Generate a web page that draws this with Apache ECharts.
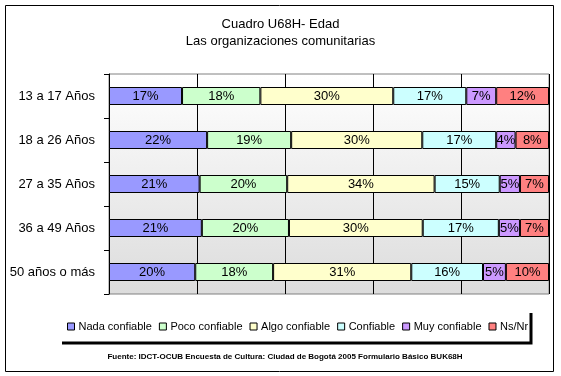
<!DOCTYPE html>
<html>
<head>
<meta charset="utf-8">
<script src="https://cdn.jsdelivr.net/npm/echarts@6/dist/echarts.min.js"></script>
<style>
html,body{margin:0;padding:0;background:#fff;}
#c{width:561px;height:376px;}
</style>
</head>
<body>
<div id="c"></div>
<script>
var categories = ['13 a 17 Años', '18 a 26 Años', '27 a 35 Años', '36 a 49 Años', '50 años o más'];
var nadaConfiable = [16.6, 22.3, 20.6, 21.1, 19.6];
var pocoConfiable = [17.8, 19.1, 19.9, 19.8, 17.7];
var algoConfiable = [30.2, 29.8, 33.5, 30.4, 31.4];
var confiable     = [16.6, 16.8, 14.8, 17.3, 16.3];
var muyConfiable  = [6.8, 4.4, 4.6, 4.8, 5.2];
var nsNr          = [12.0, 7.6, 6.6, 6.6, 9.8];
var seriesNames = ['Nada confiable', 'Poco confiable', 'Algo confiable', 'Confiable', 'Muy confiable', 'Ns/Nr'];
var seriesData = [nadaConfiable, pocoConfiable, algoConfiable, confiable, muyConfiable, nsNr];
var colors = ['#9999ff', '#ccffcc', '#ffffcc', '#ccffff', '#cc99ff', '#ff8080'];

var FONT = 'Liberation Sans, Arial, sans-serif';
var chart = echarts.init(document.getElementById('c'));
var series = seriesNames.map(function (n, i) {
  return {
    name: n,
    type: 'bar',
    stack: 'total',
    barWidth: 18,
    data: seriesData[i],
    itemStyle: { color: colors[i], borderColor: '#000', borderWidth: 1 },
    label: {
      show: true,
      position: 'inside',
      color: '#000',
      fontFamily: FONT,
      fontSize: 13,
      formatter: function (p) { return Math.round(p.value) + '%'; }
    }
  };
});

chart.setOption({
  animation: false,
  color: colors,
  title: {
    text: 'Cuadro U68H- Edad\nLas organizaciones comunitarias',
    left: 'center',
    top: 11,
    textStyle: { fontFamily: FONT, fontSize: 13, fontWeight: 'normal', color: '#000', lineHeight: 17 }
  },
  graphic: [
    { type: 'rect', shape: { x: 5.5, y: 5.5, width: 548, height: 366 }, style: { fill: 'none', stroke: '#000', lineWidth: 1 }, z: 100 },
    { type: 'polyline', shape: { points: [[62, 343], [531, 343], [531, 313]] }, style: { fill: 'none', stroke: '#000', lineWidth: 3 }, z: 100 },
    { type: 'text', x: 285, y: 353, style: { text: 'Fuente: IDCT-OCUB Encuesta de Cultura: Ciudad de Bogotá 2005 Formulario Básico BUK68H', font: 'bold 8px ' + FONT, fill: '#000', align: 'center' } }
  ],
  legend: {
    data: seriesNames,
    left: 67,
    top: 321,
    width: 480,
    padding: 0,
    icon: 'rect',
    itemWidth: 7,
    itemHeight: 7,
    itemGap: 7,
    textStyle: { fontFamily: FONT, fontSize: 11, color: '#000', padding: [0, 0, 0, -1] },
    itemStyle: { borderColor: '#000', borderWidth: 1 }
  },
  grid: {
    left: 109, right: 12, top: 74, bottom: 82,
    show: true,
    borderColor: '#808080',
    borderWidth: 1,
    backgroundColor: new echarts.graphic.LinearGradient(0, 0, 0, 1, [
      { offset: 0, color: '#ffffff' },
      { offset: 1, color: '#dcdcdc' }
    ])
  },
  xAxis: {
    type: 'value',
    min: 0, max: 100, interval: 20,
    axisLabel: { show: false },
    axisLine: { show: false },
    axisTick: { show: false },
    splitLine: { show: true, lineStyle: { color: '#000', width: 1 } }
  },
  yAxis: {
    type: 'category',
    data: categories,
    inverse: true,
    axisLine: { show: true, lineStyle: { color: '#000', width: 1 } },
    axisTick: { show: true, length: 5, lineStyle: { color: '#000' } },
    axisLabel: { fontFamily: FONT, fontSize: 13, color: '#000', margin: 14 }
  },
  series: series
});
</script>
</body>
</html>
